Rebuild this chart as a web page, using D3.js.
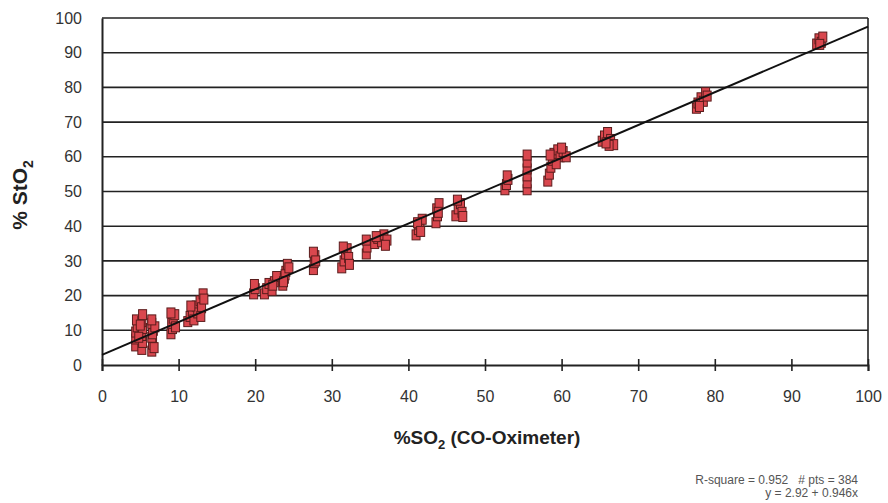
<!DOCTYPE html>
<html><head><meta charset="utf-8">
<script src="https://cdn.jsdelivr.net/npm/d3@7"></script>
<style>body{margin:0;background:#fff}svg{display:block;font-family:"Liberation Sans",Arial,sans-serif}</style>
</head><body><svg id="c" width="888" height="503"></svg>
<script>
const xTicks = [0,10,20,30,40,50,60,70,80,90,100];
const yTicks = [0,10,20,30,40,50,60,70,80,90,100];
// %SO2 (CO-Oximeter) values
const so2 = [
4.4,4.4,4.4,4.6,4.5,5.2,5.3,5.2,5.3,5.2,5.3,4.8,5.0,
6.5,6.6,6.5,6.7,6.5,6.8,6.6,6.9,6.5,
9.0,9.2,9.1,9.3,9.6,9.5,9.0,
11.2,11.5,11.8,12.0,12.3,12.5,12.8,13.0,13.2,12.9,11.6,13.3,
19.8,20.0,19.9,
21.2,21.5,21.8,22.2,22.5,22.8,22.3,
23.6,23.8,24.0,24.2,23.9,24.4,23.7,
27.6,27.7,27.8,27.6,27.9,
31.3,31.6,31.8,32.0,32.2,31.5,32.3,
34.5,34.6,34.5,
35.6,36.0,36.5,36.8,37.2,37.0,35.8,
41.0,41.3,41.5,41.8,41.2,41.6,
43.6,43.8,43.7,44.0,43.9,
46.2,46.5,46.8,47.0,46.4,47.1,
52.6,52.8,53.0,52.9,
55.5,55.5,55.5,55.5,55.5,55.5,
58.2,58.4,58.6,58.8,59.0,59.5,59.8,60.2,60.6,59.3,58.5,60.0,
65.3,65.6,66.0,66.4,66.8,66.2,65.8,
77.6,77.8,78.2,78.5,78.8,79.0,78.0,
93.3,93.6,93.9,94.1,93.7
];
// %StO2 values
const sto2 = [
5.5,7.5,9.5,11,13,4.5,6.5,8.5,10.5,12.5,14.5,8,11.5,
4,6,8,10,12,5,9,11,13,
9,10.5,12,13.5,11,14.5,15,
12.5,14,15.5,13,17,15,18.5,16.5,20.5,14,17,19,
20.5,22,23.2,
20.5,22,23.5,21.5,24,25.5,23,
23,25,27,29,26,28,24,
27.5,29.5,31.5,32.5,30,
28,30,32,33.5,31,34,29,
32,34,36,
35,36.5,35.5,37.5,36,34.5,37,
37.5,39,40.5,42,41,38.5,
41,43,45,46.5,44,
43,45,46.5,44,47.5,42.8,
50.5,52,53.5,54.5,
50.5,52.5,54.5,56.5,58.5,60.5,
53,55,57,59,61,62,60,61.5,60,58,60.5,62.5,
64.5,66,67,65,63.5,63.3,64,
74,75.5,77,76,78.5,77.5,74.5,
92.5,94,93,94.5,92.4
];
const intercept = 2.92, slope = 0.946;
const statsText = ["R-square = 0.952   # pts = 384", "y = 2.92 + 0.946x"];

const svg = d3.select("#c");
const x = d3.scaleLinear().domain([0,100]).range([102,868]);
const y = d3.scaleLinear().domain([0,100]).range([365,18]);

// gridlines
svg.append("g").selectAll("line").data(yTicks.filter(d=>d>0)).join("line")
  .attr("x1",x(0)).attr("x2",x(100)).attr("y1",d=>y(d)).attr("y2",d=>y(d))
  .attr("stroke","#222").attr("stroke-width",1.6);

// right border
svg.append("line").attr("x1",x(100)).attr("x2",x(100)).attr("y1",y(100)).attr("y2",y(0))
  .attr("stroke","#222").attr("stroke-width",1.6);

// y axis
const ya = svg.append("g").attr("transform",`translate(${x(0)},0)`)
  .call(d3.axisLeft(y).tickValues(yTicks).tickSize(0).tickPadding(20));
ya.select(".domain").attr("stroke","#222").attr("stroke-width",2);
ya.selectAll("text").attr("font-size",16).attr("fill","#333").attr("font-family","Liberation Sans, Arial, sans-serif");

// x axis
const xa = svg.append("g").attr("transform",`translate(0,${y(0)})`)
  .call(d3.axisBottom(x).tickValues(xTicks).tickSize(6).tickPadding(20));
xa.select(".domain").attr("stroke","#222").attr("stroke-width",2);
xa.selectAll(".tick line").attr("y1",-6).attr("y2",6).attr("stroke","#222").attr("stroke-width",1.6);
xa.selectAll("text").attr("font-size",16).attr("fill","#333").attr("font-family","Liberation Sans, Arial, sans-serif");

// points
const pts = so2.map((v,i)=>[v,sto2[i]]);
svg.append("g").selectAll("rect").data(pts).join("rect")
  .attr("x",d=>x(d[0])-4).attr("y",d=>y(d[1])-5).attr("width",8).attr("height",10)
  .attr("fill","#d9474e").attr("stroke","#5a1c1c").attr("stroke-width",1);

// regression line
svg.append("line").attr("x1",x(0)).attr("y1",y(intercept))
  .attr("x2",x(100)).attr("y2",y(intercept+slope*100))
  .attr("stroke","#111").attr("stroke-width",2);

// axis titles
const xt = svg.append("text").attr("x",487).attr("y",444).attr("text-anchor","middle")
  .attr("font-size",19).attr("font-weight","bold").attr("fill","#222");
xt.append("tspan").text("%SO");
xt.append("tspan").text("2").attr("font-size",13).attr("dy",5);
xt.append("tspan").text(" (CO-Oximeter)").attr("dy",-5);

const yt = svg.append("text").attr("transform","translate(27,195) rotate(-90)").attr("text-anchor","middle")
  .attr("font-size",21).attr("font-weight","bold").attr("fill","#222");
yt.append("tspan").text("% StO");
yt.append("tspan").text("2").attr("font-size",14).attr("dy",6);

// stats
svg.append("g").selectAll("text").data(statsText).join("text")
  .attr("x",858).attr("y",(d,i)=>484+i*13).attr("text-anchor","end")
  .style("white-space","pre")
  .attr("font-size",12).attr("fill","#555").text(d=>d);
</script></body></html>
